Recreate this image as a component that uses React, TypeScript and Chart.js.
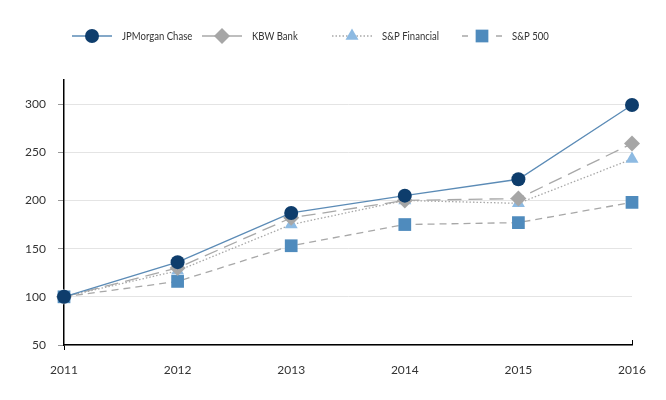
import React, { useEffect, useRef } from "react";
import { Chart, registerables } from "chart.js";

Chart.register(...registerables);

const years = ["2011", "2012", "2013", "2014", "2015", "2016"];
const jpmorgan = [100, 136, 187, 205, 222, 299];
const kbwBank = [100, 130, 182, 200, 202, 259];
const spFinancial = [100, 127, 175, 200, 197, 243];
const sp500 = [100, 116, 153, 175, 177, 198];
const yTicks = [50, 100, 150, 200, 250, 300];

const FONT = "Lato, 'DejaVu Sans Condensed', sans-serif";

function drawMarker(ctx: CanvasRenderingContext2D, style: string, x: number, y: number, r: number) {
  ctx.beginPath();
  if (style === "circle") {
    ctx.arc(x, y, r, 0, Math.PI * 2);
  } else if (style === "rectRot") {
    ctx.moveTo(x, y - r);
    ctx.lineTo(x + r, y);
    ctx.lineTo(x, y + r);
    ctx.lineTo(x - r, y);
    ctx.closePath();
  } else if (style === "triangle") {
    const w = r * Math.sin(Math.PI / 3);
    ctx.moveTo(x, y - r);
    ctx.lineTo(x + w, y + r / 2);
    ctx.lineTo(x - w, y + r / 2);
    ctx.closePath();
  } else {
    const s = Math.SQRT1_2 * r;
    ctx.rect(x - s, y - s, 2 * s, 2 * s);
  }
  ctx.fill();
}

const legendPlugin = {
  id: "customLegend",
  afterDraw(chart: any) {
    const ctx = chart.ctx;
    const y = 36;
    const startX = 72;
    const step = 130;
    chart.data.datasets.forEach((ds: any, i: number) => {
      const x0 = startX + i * step;
      ctx.save();
      ctx.strokeStyle = ds.borderColor;
      ctx.lineWidth = ds.borderWidth;
      ctx.setLineDash(ds.legendDash || []);
      ctx.beginPath();
      ctx.moveTo(x0, y);
      ctx.lineTo(x0 + 40, y);
      ctx.stroke();
      ctx.restore();
      ctx.save();
      ctx.fillStyle = ds.pointBackgroundColor;
      drawMarker(ctx, ds.pointStyle, x0 + 20, y, ds.pointRadius);
      ctx.restore();
      ctx.save();
      ctx.fillStyle = "#333333";
      ctx.font = `11.5px ${FONT}`;
      ctx.textBaseline = "middle";
      ctx.textAlign = "left";
      const w = ctx.measureText(ds.label).width;
      ctx.fillText(ds.label, x0 + 50, y, w * 0.83);
      ctx.restore();
    });
    const xs = chart.scales.x;
    const ys = chart.scales.y;
    const xr = xs.getPixelForValue(5);
    ctx.save();
    ctx.strokeStyle = "#000";
    ctx.lineWidth = 1;
    ctx.beginPath();
    ctx.moveTo(xr + 0.5, ys.bottom);
    ctx.lineTo(xr + 0.5, ys.bottom - 5);
    ctx.stroke();
    ctx.restore();
  },
};

export default function App() {
  const ref = useRef<HTMLCanvasElement>(null);
  useEffect(() => {
    document.body.style.margin = "0";
    const canvas = ref.current!;
    const chart = new Chart(canvas, {
      type: "line",
      data: {
        labels: years,
        datasets: [
          {
            label: "JPMorgan Chase",
            data: jpmorgan,
            borderColor: "#5b8bb6",
            borderWidth: 1.3,
            pointStyle: "circle",
            pointRadius: 7,
            pointHoverRadius: 7,
            pointBackgroundColor: "#0e3d6c",
            pointBorderColor: "#0e3d6c",
            pointBorderWidth: 0,
            clip: false,
            legendDash: [],
          } as any,
          {
            label: "KBW Bank",
            data: kbwBank,
            borderColor: "#a8a8a8",
            borderWidth: 1.3,
            borderDash: [14, 7],
            pointStyle: "rectRot",
            pointRadius: 8,
            pointHoverRadius: 8,
            pointBackgroundColor: "#a6a6a6",
            pointBorderColor: "#a6a6a6",
            pointBorderWidth: 0,
            clip: false,
            legendDash: [],
          } as any,
          {
            label: "S&P Financial",
            data: spFinancial,
            borderColor: "#a8a8a8",
            borderWidth: 1.3,
            borderDash: [1.5, 2],
            pointStyle: "triangle",
            pointRadius: 7.5,
            pointHoverRadius: 7.5,
            pointBackgroundColor: "#8dbae2",
            pointBorderColor: "#8dbae2",
            pointBorderWidth: 0,
            clip: false,
            legendDash: [1.5, 2],
          } as any,
          {
            label: "S&P 500",
            data: sp500,
            borderColor: "#a8a8a8",
            borderWidth: 1.3,
            borderDash: [7, 5],
            pointStyle: "rect",
            pointRadius: 9,
            pointHoverRadius: 9,
            pointBackgroundColor: "#4f8bbd",
            pointBorderColor: "#4f8bbd",
            pointBorderWidth: 0,
            clip: false,
            legendDash: [6, 28, 6, 0],
          } as any,
        ],
      },
      options: {
        animation: false,
        responsive: false,
        devicePixelRatio: 1,
        layout: { padding: { top: 80, right: 34, left: 0, bottom: 0 } },
        plugins: {
          legend: { display: false },
          tooltip: { enabled: false },
        },
        scales: {
          x: {
            offset: false,
            border: { display: true, color: "#000000", width: 1.5 },
            grid: {
              drawOnChartArea: false,
              drawTicks: true,
              tickLength: 5,
              tickColor: (ctx: any) => (ctx.index === 0 ? "#000000" : "rgba(0,0,0,0)"),
            },
            ticks: {
              color: "#333333",
              font: { family: FONT, size: 12 },
              padding: 13,
              maxRotation: 0,
            },
            afterFit: (s: any) => {
              s.height = 55;
            },
          },
          y: {
            min: 50,
            max: 325,
            border: { display: true, color: "#000000", width: 1.5 },
            grid: {
              color: "#e4e4e4",
              lineWidth: 1,
              tickLength: 6,
              tickColor: "#999999",
            },
            afterBuildTicks: (s: any) => {
              s.ticks = yTicks.map((v) => ({ value: v }));
            },
            ticks: {
              color: "#333333",
              font: { family: FONT, size: 12 },
              padding: 12,
            },
            afterFit: (s: any) => {
              s.width = 64;
            },
          },
        },
      },
      plugins: [legendPlugin],
    });
    return () => chart.destroy();
  }, []);
  return <canvas ref={ref} width={666} height={400} style={{ display: "block", width: 666, height: 400 }} />;
}
